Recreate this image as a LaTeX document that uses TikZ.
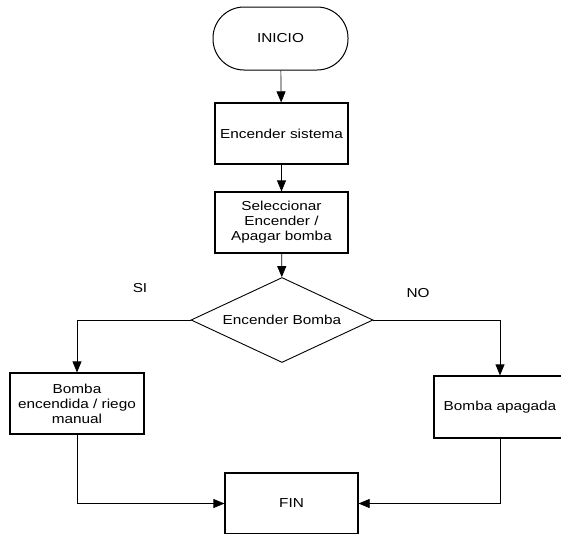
\documentclass[tikz,border=0pt]{standalone}
\usepackage{fontspec}
\setmainfont{Liberation Sans}[FakeStretch=1.18]
\usetikzlibrary{shapes.geometric,arrows.meta}
\begin{document}
\begin{tikzpicture}[x=1pt,y=-1pt,
  font=\fontsize{13pt}{15pt}\selectfont,
  boxnode/.style={draw,line width=1.2pt,minimum width=133pt,minimum height=61pt,inner sep=2pt,align=center},
  termnode/.style={draw,line width=1pt,rounded corners=31pt,minimum width=135pt,minimum height=63pt},
  decnode/.style={draw,diamond,aspect=2.14,line width=0.9pt,minimum width=182pt,minimum height=85pt,inner sep=0pt},
  conn/.style={line width=0.7pt,-{Triangle[length=11pt,width=9pt]}},
  lbl/.style={inner sep=0pt}]
\useasboundingbox (0,0) rectangle (561,533);
\node[termnode] (inicio) at (280.5,38.5) {INICIO};
\node[boxnode] (enc) at (281.5,133.5) {Encender sistema};
\node[boxnode] (sel) at (281.5,222.5) {Seleccionar\\Encender /\\Apagar bomba};
\node[decnode] (dec) at (282,320) {Encender Bomba};
\node[boxnode,minimum width=134pt] (lb) at (77,403.5) {Bomba\\encendida / riego\\manual};
\node[boxnode,minimum width=132pt,minimum height=62pt] (rb) at (500,407) {Bomba apagada};
\node[boxnode] (fin) at (291.5,503.5) {FIN};
\node[lbl] (si) at (140,288) {SI};
\node[lbl] (no) at (418,293) {NO};
\draw[conn] (inicio) -- (enc);
\draw[conn] (enc) -- (sel);
\draw[conn] (sel) -- (dec);
\draw[conn] (dec.west) -| (lb.north);
\draw[conn] (dec.east) -| (rb.north);
\draw[conn] (lb.south) |- (fin.west);
\draw[conn] (rb.south) |- (fin.east);
\end{tikzpicture}
\end{document}
